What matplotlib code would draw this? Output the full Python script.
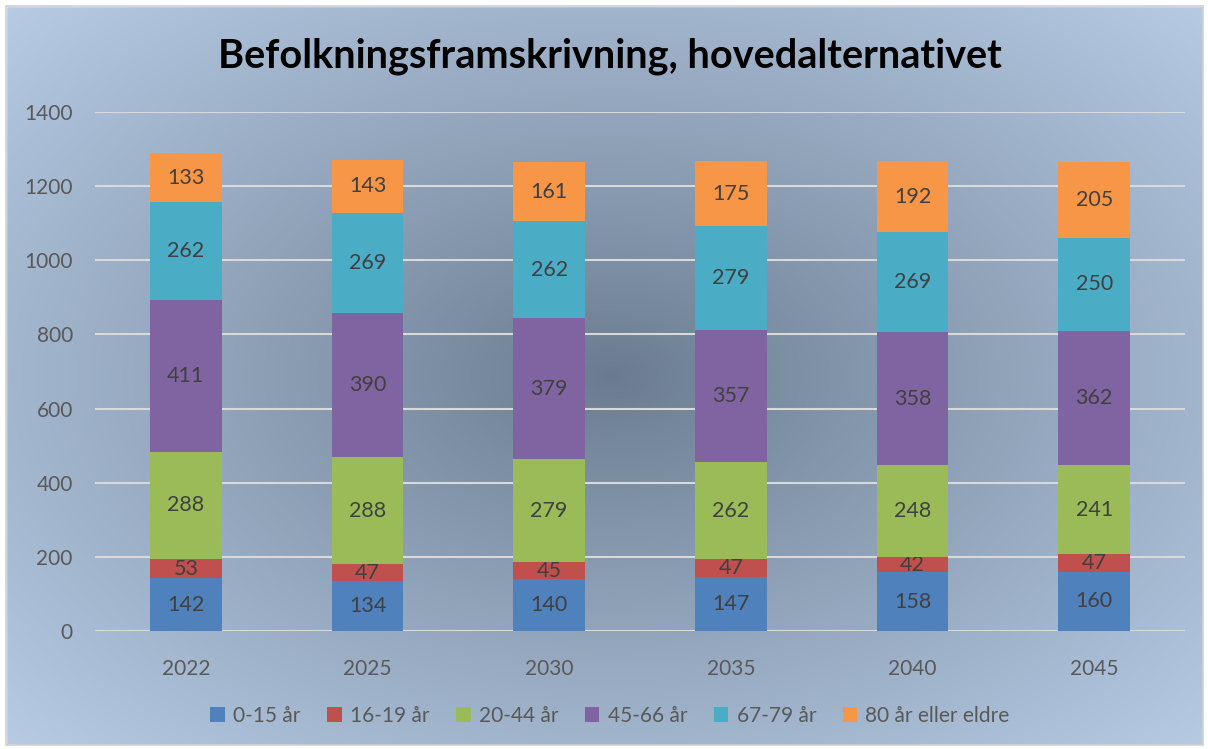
import numpy as np
import matplotlib.pyplot as plt
from matplotlib.patches import Patch, Rectangle
from matplotlib.colors import to_rgb

years = ['2022', '2025', '2030', '2035', '2040', '2045']
groups = ['0-15 år', '16-19 år', '20-44 år', '45-66 år', '67-79 år', '80 år eller eldre']
values = {
    '0-15 år': [142, 134, 140, 147, 158, 160],
    '16-19 år': [53, 47, 45, 47, 42, 47],
    '20-44 år': [288, 288, 279, 262, 248, 241],
    '45-66 år': [411, 390, 379, 357, 358, 362],
    '67-79 år': [262, 269, 262, 279, 269, 250],
    '80 år eller eldre': [133, 143, 161, 175, 192, 205],
}
colors = ['#4f81bd', '#c0504d', '#9bbb59', '#8064a2', '#4bacc6', '#f79646']

plt.rcParams['font.family'] = ['Lato', 'DejaVu Sans']

fig = plt.figure(figsize=(12.08, 7.49), dpi=100)

# radial gradient background
bg = fig.add_axes([0, 0, 1, 1], zorder=-10)
W, H = 1208, 749
yy, xx = np.mgrid[0:H, 0:W]
cx, cy = 610, 375
r = np.sqrt(((xx - cx) / 620.0) ** 2 + ((yy - cy) / 390.0) ** 2) / np.sqrt(2)
r = np.clip(r, 0, 1) ** 0.9
c0 = np.array(to_rgb('#6a7b8e'))
c1 = np.array(to_rgb('#b9cee8'))
img = c0[None, None, :] * (1 - r[..., None]) + c1[None, None, :] * r[..., None]
bg.imshow(img, extent=[0, W, H, 0], aspect='auto')
bg.set_xlim(0, W)
bg.set_ylim(H, 0)
bg.axis('off')
# white margin and frame
for (x0, y0, w, h) in [(0, 0, W, 6), (0, H - 4, W, 4), (0, 0, 6, H), (W - 5, 0, 5, H)]:
    bg.add_patch(Rectangle((x0, y0), w, h, color='white', zorder=5))
bg.add_patch(Rectangle((6, 6), W - 11, H - 10, fill=False, edgecolor='#d0d0d0', lw=1.2, zorder=6))

ax = fig.add_axes([95 / W, 1 - 631 / H, (1185 - 95) / W, (631 - 112) / H])
ax.patch.set_alpha(0)
x = np.arange(len(years))
bottom = np.zeros(len(years))
for g, c in zip(groups, colors):
    bars = ax.bar(x, values[g], 0.396, bottom=bottom, color=c, zorder=3, label=g)
    ax.bar_label(bars, label_type='center', fontsize=15.5, color='#404040')
    bottom += np.array(values[g])

ax.set_xlim(-0.5, 5.5)
ax.set_ylim(0, 1400)
ax.set_yticks(range(0, 1401, 200))
ax.set_xticks(x)
ax.set_xticklabels(years)
ax.tick_params(length=0, labelsize=15, colors='#595959')
ax.tick_params(axis='x', pad=20)
ax.tick_params(axis='y', pad=16)
ax.grid(axis='y', color='#d9d9d9', lw=1.5, zorder=0)
for s in ax.spines.values():
    s.set_visible(False)

fig.text(0.505, 0.925, 'Befolkningsframskrivning, hovedalternativet',
         ha='center', va='center', fontsize=28.5, fontweight='bold', color='black')

handles = [Patch(facecolor=c, label=g) for g, c in zip(groups, colors)]
fig.legend(handles=handles, loc='center', bbox_to_anchor=(0.505, 0.044), ncol=6,
           frameon=False, fontsize=15, labelcolor='#595959', handlelength=0.7,
           handleheight=0.7, handletextpad=0.4, columnspacing=1.27)

fig.savefig('out.png', dpi=100)
